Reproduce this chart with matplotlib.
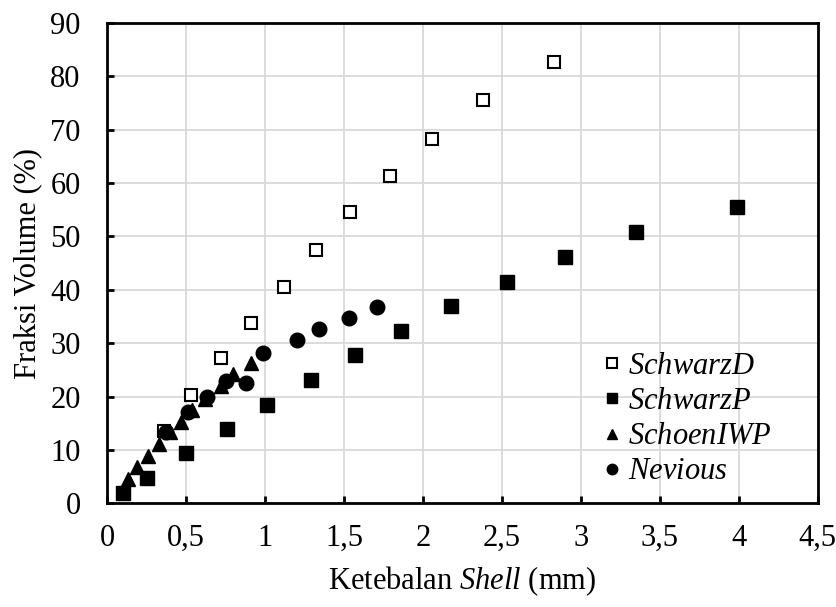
import matplotlib.pyplot as plt
from matplotlib.ticker import FuncFormatter

plt.rcParams["font.family"] = ["Liberation Serif", "DejaVu Serif"]
plt.rcParams["mathtext.fontset"] = "custom"
plt.rcParams["mathtext.it"] = "Liberation Serif:italic"
plt.rcParams["mathtext.rm"] = "Liberation Serif"

# data
schwarzd_x = [0.36, 0.53, 0.72, 0.91, 1.12, 1.32, 1.54, 1.79, 2.06, 2.38, 2.83]
schwarzd_y = [13.5, 20.3, 27.2, 33.8, 40.6, 47.5, 54.5, 61.3, 68.2, 75.5, 82.7]

schwarzp_x = [0.10, 0.25, 0.50, 0.76, 1.01, 1.29, 1.57, 1.86, 2.18, 2.53, 2.90, 3.35, 3.99]
schwarzp_y = [2.0, 4.7, 9.4, 14.0, 18.5, 23.1, 27.7, 32.3, 36.9, 41.5, 46.1, 50.8, 55.5]

schoen_x = [0.13, 0.19, 0.26, 0.33, 0.40, 0.47, 0.54, 0.62, 0.72, 0.80, 0.91]
schoen_y = [4.5, 6.8, 8.9, 11.1, 13.3, 15.3, 17.4, 19.6, 22.0, 24.2, 26.3]

nevious_x = [0.37, 0.51, 0.63, 0.75, 0.88, 0.99, 1.20, 1.34, 1.53, 1.71]
nevious_y = [13.4, 17.1, 20.0, 22.9, 22.6, 28.2, 30.5, 32.7, 34.8, 36.8]

x_ticks = [0, 0.5, 1, 1.5, 2, 2.5, 3, 3.5, 4, 4.5]
y_ticks = [0, 10, 20, 30, 40, 50, 60, 70, 80, 90]

FS = 22

fig = plt.figure(figsize=(8.37, 6.07), dpi=100)
ax = fig.add_axes([0.128, 0.171, 0.849, 0.791])

ax.plot(schwarzd_x, schwarzd_y, "s", ms=9, mfc="white", mec="black", mew=1.5,
        ls="none", label="$\\mathit{SchwarzD}$", zorder=3)
ax.plot(schwarzp_x, schwarzp_y, "s", ms=10, mfc="black", mec="black",
        ls="none", label="$\\mathit{SchwarzP}$", zorder=3)
ax.plot(schoen_x, schoen_y, "^", ms=10, mfc="black", mec="black",
        ls="none", label="$\\mathit{SchoenIWP}$", zorder=3)
ax.plot(nevious_x, nevious_y, "o", ms=10.5, mfc="black", mec="black",
        ls="none", label="$\\mathit{Nevious}$", zorder=3)

ax.set_xlim(0, 4.5)
ax.set_ylim(0, 90)
ax.set_xticks(x_ticks)
ax.set_yticks(y_ticks)
ax.xaxis.set_major_formatter(FuncFormatter(lambda v, p: f"{v:g}".replace(".", ",")))
ax.grid(True, color="#d9d9d9", lw=1.3, zorder=0)
ax.set_axisbelow(True)
for s in ax.spines.values():
    s.set_linewidth(2)
    s.set_color("black")
ax.tick_params(direction="in", length=5, width=2, labelsize=FS)
ax.tick_params(axis="x", pad=15)
ax.tick_params(axis="y", pad=19)

ax.set_xlabel("Ketebalan $\\mathit{Shell}$ (mm)", fontsize=FS, labelpad=8)
ax.set_ylabel("Fraksi Volume (%)", fontsize=FS, labelpad=6)

leg = ax.legend(loc="lower left", bbox_to_anchor=(0.698, 0.035), frameon=False,
                fontsize=FS, handletextpad=0.22, labelspacing=0.2,
                handlelength=0.6, borderaxespad=0, borderpad=0)
for h in leg.legend_handles:
    h.set_markersize(7.5)

fig.savefig("out.png", dpi=100)
